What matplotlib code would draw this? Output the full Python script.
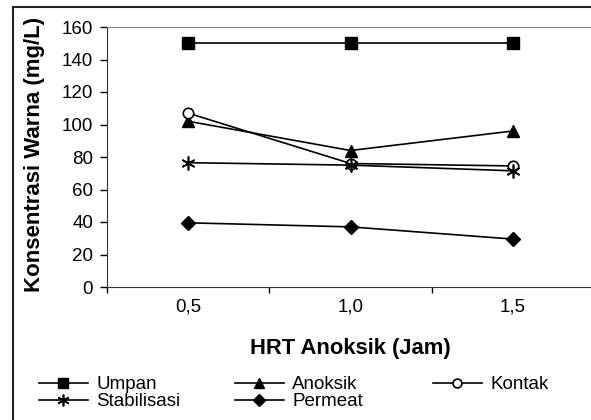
import matplotlib
matplotlib.use("Agg")
import matplotlib.pyplot as plt
from matplotlib.patches import Rectangle

plt.rcParams['font.family'] = ['Liberation Sans', 'DejaVu Sans']

# data
hrt_labels = ["0,5", "1,0", "1,5"]
umpan = [150, 150, 150]
anoksik = [102, 84, 96]
kontak = [107, 76, 74.5]
stabilisasi = [76.5, 75, 71.5]
permeat = [39.5, 37, 29.5]

series = [
    ("Umpan", umpan, dict(marker='s', mfc='black', ms=8)),
    ("Anoksik", anoksik, dict(marker='^', mfc='black', ms=9)),
    ("Kontak", kontak, dict(marker='o', mfc='white', ms=7.5, mew=1.2)),
    ("Stabilisasi", stabilisasi, dict(marker=(6, 2, 0), mfc='black', ms=10, mew=1.2)),
    ("Permeat", permeat, dict(marker='D', mfc='black', ms=7.5)),
]

fig = plt.figure(figsize=(5.91, 4.2), dpi=100)
W, H = 591.0, 420.0

# outer chart border (cut off on the right / bottom like the reference)
fig.patches.append(Rectangle((13 / W, -0.1), 1.2, 1 - 7 / H + 0.1,
                             transform=fig.transFigure, fill=False,
                             edgecolor='#222222', lw=1.5))

ax = fig.add_axes([107 / W, 1 - 287 / H, 487 / W, 260 / H])
x = list(range(len(hrt_labels)))

handles = {}
for name, vals, style in series:
    line, = ax.plot(x, vals, color='black', lw=1.2, mec='black', label=name, **style)
    handles[name] = line

ax.set_ylim(0, 160)
ax.set_yticks(range(0, 161, 20))
ax.set_xlim(-0.5, 2.5)
ax.set_xticks([-0.5, 0.5, 1.5, 2.5])
ax.set_xticklabels([])
ax.set_xticks(x, minor=True)
ax.set_xticklabels(hrt_labels, minor=True)
ax.tick_params(axis='y', direction='out', length=5, width=1, pad=5, labelsize=13.5)
ax.tick_params(axis='x', which='major', direction='out', length=4, width=1)
ax.tick_params(axis='x', which='minor', length=0, pad=8, labelsize=13.5)

for side in ['left', 'bottom']:
    ax.spines[side].set_color('#333333')
ax.spines['top'].set_color('#888888')
ax.spines['right'].set_color('#888888')

ax.set_xlabel("HRT Anoksik (Jam)", fontsize=15.8, fontweight='bold', va='center')
ax.xaxis.set_label_coords(0.5, -0.235)
ax.set_ylabel("Konsentrasi Warna (mg/L)", fontsize=16, fontweight='bold',
              va='center', ha='center')
ax.yaxis.set_label_coords(-0.148, 0.51)

# legend laid out in three evenly spaced columns
columns = [["Umpan", "Stabilisasi"], ["Anoksik", "Permeat"], ["Kontak"]]
col_x = [39, 235, 433]
for names, cx in zip(columns, col_x):
    leg = fig.legend([handles[n] for n in names], names, loc='upper left',
                     bbox_to_anchor=(cx / W, 1 - 376 / H), frameon=False,
                     fontsize=13.5, handlelength=2.6, handletextpad=0.45,
                     labelspacing=0.0, borderpad=0, borderaxespad=0,
                     markerscale=0.85)

fig.savefig("out.png", dpi=100)
